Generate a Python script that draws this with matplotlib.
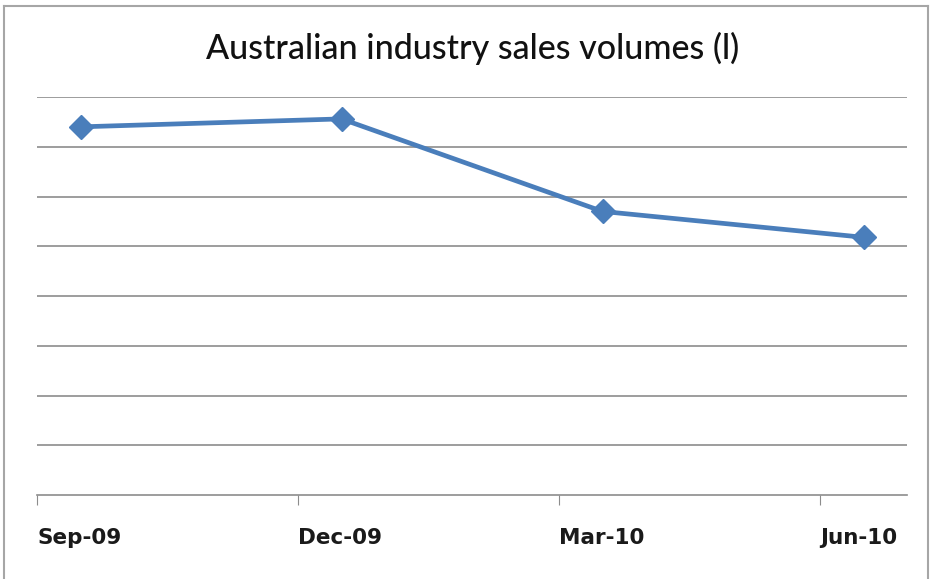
import matplotlib.pyplot as plt
from matplotlib.lines import Line2D

# quarterly sales volumes (no y scale shown in the original, units = gridline steps)
quarters = ["Sep-09", "Dec-09", "Mar-10", "Jun-10"]
month_index = [0, 3, 6, 9]
volumes = [7.40, 7.56, 5.70, 5.18]

fig = plt.figure(figsize=(9.3, 5.79), dpi=100)
ax = fig.add_axes([37 / 930, 1 - 495 / 579, 870 / 930, 398 / 579])

ax.plot([m + 0.5 for m in month_index], volumes, color="#4a7ebb", lw=3.4,
        marker="D", markersize=12, markerfacecolor="#4a7ebb", markeredgecolor="#4a7ebb",
        zorder=3, clip_on=False)

ax.set_xlim(0, 10)
ax.set_ylim(0, 8)
ax.set_yticks(range(1, 9))
ax.yaxis.grid(True, color="#8c8c8c", lw=1.2)
ax.tick_params(axis="y", left=False, labelleft=False)
ax.set_xticks(month_index)
ax.set_xticklabels(quarters, fontsize=15.5, fontweight="bold", ha="left", color="#1a1a1a")
ax.tick_params(axis="x", direction="out", length=7, color="#8c8c8c", pad=17)
for side in ["top", "left", "right"]:
    ax.spines[side].set_visible(False)
ax.spines["bottom"].set_color("#8c8c8c")
ax.spines["bottom"].set_linewidth(1.2)
ax.set_axisbelow(True)

fig.text(0.508, 1 - 48 / 579, "Australian industry sales volumes (l)", ha="center", va="center",
         fontsize=24.5, family="Lato", fontweight="medium", color="#111111")

# chart area border (top, left, right)
for xs, ys in [([4 / 930, 928 / 930], [1 - 6 / 579] * 2),
               ([4 / 930] * 2, [0, 1 - 6 / 579]),
               ([928 / 930] * 2, [0, 1 - 6 / 579])]:
    fig.add_artist(Line2D(xs, ys, transform=fig.transFigure, color="#a6a6a6", lw=1.5))

fig.savefig("out.png", dpi=100)
